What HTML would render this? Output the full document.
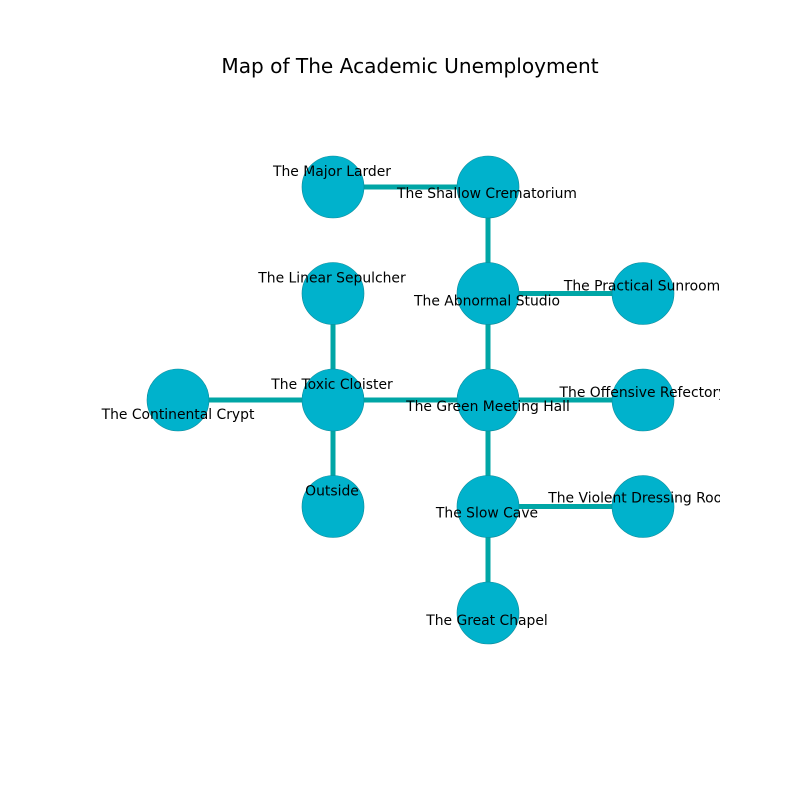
<!DOCTYPE html>
<html><head><meta charset="utf-8"><style>
html,body{margin:0;padding:0;background:#fff;}
svg{display:block;font-family:"DejaVu Sans","Liberation Sans",sans-serif;}
</style></head><body>
<svg id="chart" width="800" height="800" viewBox="0 0 800 800">
<defs><clipPath id="ax"><rect x="80" y="96" width="640" height="616"/></clipPath></defs>
<text x="410" y="73" text-anchor="middle" font-size="20.1" fill="#000">Map of The Academic Unemployment</text>
<g id="edges" clip-path="url(#ax)"></g>
<g id="nodes" clip-path="url(#ax)"></g>
<g id="labels" clip-path="url(#ax)"></g>
</svg>
<script>
const nodeNames = ["The Major Larder","The Shallow Crematorium","The Linear Sepulcher","The Abnormal Studio","The Practical Sunroom","The Continental Crypt","The Toxic Cloister","The Green Meeting Hall","The Offensive Refectory","Outside","The Slow Cave","The Violent Dressing Room","The Great Chapel"];
const nodeCol = [1,2,1,2,3,0,1,2,3,1,2,3,2];
const nodeRow = [0,0,1,1,1,2,2,2,2,3,3,3,4];
const labelDx = [-1,-1,-1,-1,-1,0,-1,0,0,-1,-1,-1,-1];
const labelDy = [-16,6,-16,7,-8,14,-16,6,-8,-16,6,-9,7];
const edgeFrom = [0,1,3,3,2,5,6,6,7,7,10,10];
const edgeTo   = [1,3,4,7,6,6,7,9,8,10,11,12];
const NS="http://www.w3.org/2000/svg";
function xPos(c){return 178+c*155;}
function yPos(r){return 187+r*106.5;}
const eg=document.getElementById('edges'),ng=document.getElementById('nodes'),lg=document.getElementById('labels');
edgeFrom.forEach((a,i)=>{const b=edgeTo[i];const l=document.createElementNS(NS,'line');
l.setAttribute('x1',xPos(nodeCol[a]));l.setAttribute('y1',yPos(nodeRow[a]));
l.setAttribute('x2',xPos(nodeCol[b]));l.setAttribute('y2',yPos(nodeRow[b]));
l.setAttribute('stroke','#00a6a6');l.setAttribute('stroke-width','5');


eg.appendChild(l);});
nodeNames.forEach((n,i)=>{const c=document.createElementNS(NS,'circle');
c.setAttribute('cx',xPos(nodeCol[i]));c.setAttribute('cy',yPos(nodeRow[i]));c.setAttribute('r','31');
c.setAttribute('fill','#00b2cc');c.setAttribute('stroke','#0a8a9a');c.setAttribute('stroke-width','0.6');


ng.appendChild(c);
const t=document.createElementNS(NS,'text');
t.setAttribute('x',xPos(nodeCol[i])+labelDx[i]);t.setAttribute('y',yPos(nodeRow[i])+labelDy[i]+5);
t.setAttribute('text-anchor','middle');t.setAttribute('font-size','13.9');t.setAttribute('fill','#000');
t.textContent=n;


lg.appendChild(t);});
</script>
</body></html>
